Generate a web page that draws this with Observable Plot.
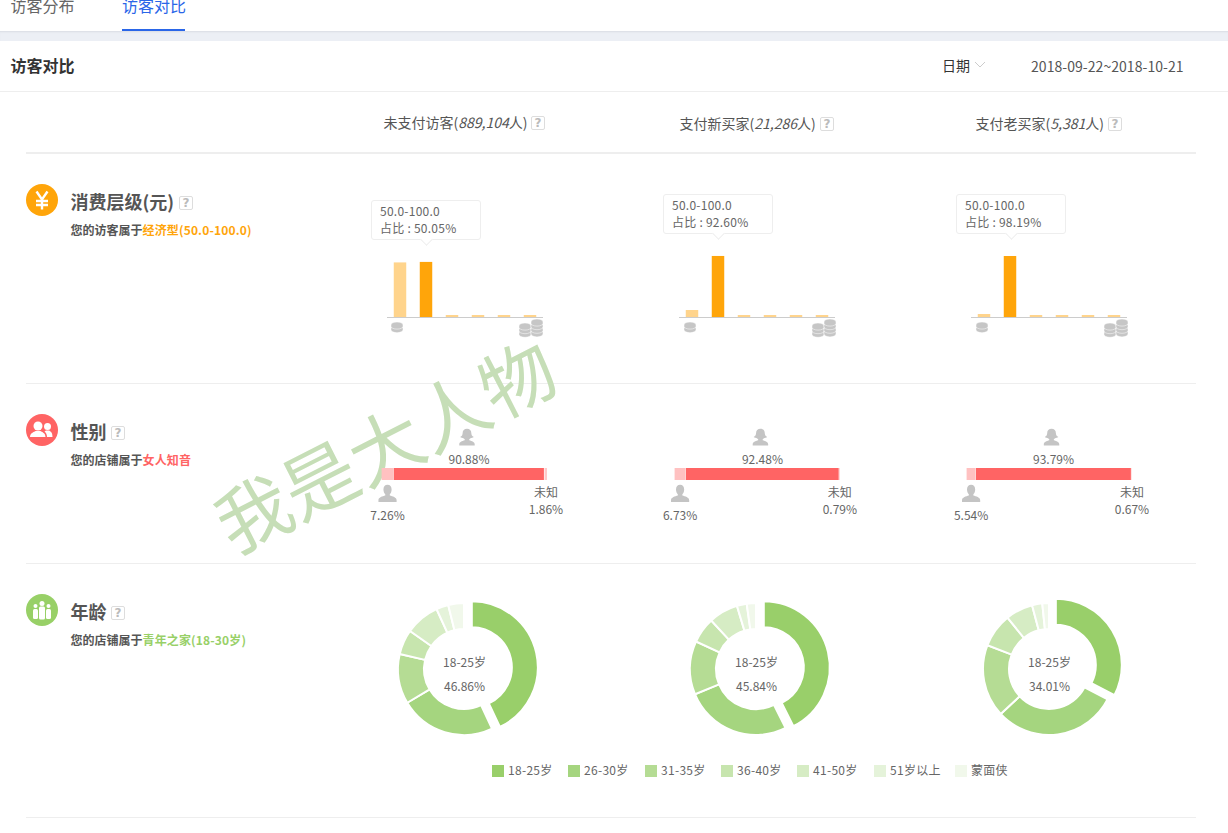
<!DOCTYPE html>
<html lang="zh">
<head>
<meta charset="utf-8">
<script src="https://cdn.jsdelivr.net/npm/d3@7"></script>
<script src="https://cdn.jsdelivr.net/npm/@observablehq/plot@0.6"></script>
<style>
html,body{margin:0;padding:0;background:#fff;}
#page{position:relative;width:1228px;height:833px;overflow:hidden;background:#fff;color:#666;
  font-family:"Noto Sans CJK SC","Noto Sans",sans-serif;font-size:12px;}
.t{position:absolute;white-space:nowrap;transform:translateY(-50%);line-height:1.2;}
.box{position:absolute;width:12px;height:12px;border:1px solid #ddd;border-radius:2px;color:#bbb;
  font:bold 12px/12px "DejaVu Sans",sans-serif;text-align:center;background:#fff;}
.hr{position:absolute;left:26px;width:1170px;height:1px;background:#eee;}
.p{position:absolute;}
.p svg{overflow:visible;max-width:none;}
.tip{position:absolute;width:108px;height:38px;border:1px solid #eee;border-radius:3px;background:#fff;
  box-sizing:content-box;font-size:12px;line-height:17px;color:#666;padding:0;letter-spacing:.25px;}
.tip div{padding-left:8px;}
.tip:after{content:"";position:absolute;left:50px;bottom:-5px;width:8px;height:8px;background:#fff;
  border-right:1px solid #eee;border-bottom:1px solid #eee;transform:rotate(45deg);}
.c{position:absolute;border-radius:50%;width:32px;height:32px;left:26px;}
</style>
</head>
<body>
<div id="page"></div>
<script>
// ---- data ----
const columns = ["未支付访客", "支付新买家", "支付老买家"];
const visitors = ["889,104", "21,286", "5,381"];
const spendBins = ["0-50", "50-100", "100-150", "150-200", "200-300", "300+"];
const spendA = [49.6, 50.05, 1.8, 1.8, 1.8, 1.8];
const spendB = [10.6, 92.6, 3, 3, 3, 3];
const spendC = [4.8, 98.19, 3.2, 3.2, 3.2, 3.2];
const spendPeak = ["50.05%", "92.60%", "98.19%"];
const genderKeys = ["男", "女", "未知"];
const genderA = [7.26, 90.88, 1.86];
const genderB = [6.73, 92.48, 0.79];
const genderC = [5.54, 93.79, 0.67];
const ageKeys = ["18-25岁", "26-30岁", "31-35岁", "36-40岁", "41-50岁", "51岁以上", "蒙面侠"];
const ageColors = ["#99cf6a", "#a5d57f", "#b5dc94", "#c7e5ae", "#d6ecc4", "#e5f3da", "#f1f8eb"];
// slice sizes as drawn in the picture; the printed share is in agePeak
const ageA = [43, 23.46, 12.2, 6.1, 8.4, 3.0, 3.84];
const ageB = [42.6, 26.14, 13.1, 6.3, 7.2, 2.4, 2.26];
const ageC = [32.6, 30.47, 17.8, 8.3, 6.7, 2.5, 1.63];
const agePeak = ["46.86%", "45.84%", "34.01%"];

const page = document.getElementById("page");
const FONT = '"Noto Sans CJK SC","Noto Sans",sans-serif';
function txt(x, y, html, style = "") {
  const d = document.createElement("div");
  d.className = "t"; d.style.cssText = `left:${x}px;top:${y}px;${style}`; d.innerHTML = html;
  page.appendChild(d); return d;
}
function html(s) { const w = document.createElement("div"); w.innerHTML = s; const n = w.firstElementChild; page.appendChild(n); return n; }
function q(x, y) { html(`<div class="box" style="left:${x}px;top:${y}px">?</div>`); }
function hr(y, h = 1) { html(`<div class="hr" style="top:${y}px;height:${h}px"></div>`); }
function place(node, left, top, w, h) {
  const d = document.createElement("div");
  d.className = "p"; d.style.cssText = `left:${left}px;top:${top}px;width:${w}px;height:${h}px`;
  d.appendChild(node); page.appendChild(d);
}
const plotStyle = {background: "transparent", overflow: "visible", fontFamily: FONT, fontSize: "12px", maxWidth: "none"};

// ---- page chrome ----
html(`<div style="position:absolute;left:0;top:31px;width:1228px;height:10px;background:#eceff5;box-shadow:inset 0 2px 2px -1px #d9dce3"></div>`);
txt(10.5, 6, "访客分布", "font-size:16px;color:#666");
txt(122, 6, "访客对比", "font-size:16px;color:#2a66e8");
html(`<div style="position:absolute;left:122px;top:29px;width:63px;height:2px;background:#2a66e8"></div>`);
txt(10.5, 66, "访客对比", "font-size:16px;font-weight:700;color:#333");
txt(942, 64.500, "日期", "font-size:14px;color:#333");
html(`<svg style="position:absolute;left:974px;top:61px" width="12" height="8"><path d="M1 1l5 5 5-5" fill="none" stroke="#ccc"/></svg>`);
txt(1031, 66, "2018-09-22~2018-10-21", "font-size:14px;color:#555;letter-spacing:.05px");
html(`<div style="position:absolute;left:0;top:91px;width:1228px;height:1px;background:#eee"></div>`);

const headX = [383.5, 679.5, 975.5], headY = [122, 123, 123], boxX = [531, 820, 1108];
columns.forEach((c, i) => {
  txt(headX[i], headY[i], `${c}(<i>${visitors[i]}</i>人)`, "font-size:14px;color:#555");
  q(boxX[i], headY[i] - 6);
});
hr(152, 2); hr(383); hr(563); hr(817);

// watermark (below the charts)
txt(384, 443, "我是大人物", "font-size:74px;color:#c6deb7;font-weight:400;transform:translate(-50%,-50%) rotate(-27deg);letter-spacing:0");

// ---- section headers ----
function section(cy, color, iconSvg, title, boxLeft, lead, accent) {
  html(`<div class="c" style="top:${cy - 16}px;background:${color}">${iconSvg}</div>`);
  txt(70.5, cy + 2, title, "font-size:18px;font-weight:700;color:#555");
  q(boxLeft, cy - 4);
  txt(70.5, cy + 30, `${lead}<span style="color:${color};letter-spacing:.15px">${accent}</span>`, "font-size:12px;font-weight:700;color:#555");
}
section(200, "#ffa50a", `<svg width="32" height="32"><path d="M10.500 7.500l5.500 8 5.500-8M16 15.500v10M10 17h12M10 21h12" fill="none" stroke="#fff" stroke-width="2.400"/></svg>`,
  "消费层级(元)", 179, "您的访客属于", "经济型(50.0-100.0)");
section(430, "#ff6464", `<svg width="32" height="32" fill="#fff"><circle cx="12" cy="12" r="4.500"/><path d="M4 23c0-4 4-5 5.500-6h5c1.500 1 5 2 5 6z"/><circle cx="21.500" cy="12.500" r="3.500"/><path d="M21 23c0-2.500-1-4.500-2.500-5.500l1.500-1h3c1.500.8 3.500 1.800 3.500 6.500z"/></svg>`,
  "性别", 111, "您的店铺属于", "女人知音");
section(610, "#98d067", `<svg width="32" height="32" fill="#fff"><circle cx="16" cy="9.500" r="2.500"/><rect x="13" y="12.500" width="6" height="13" rx="1.500"/><circle cx="9.500" cy="12" r="2"/><rect x="7" y="15" width="5" height="10" rx="1.500"/><circle cx="22.500" cy="12" r="2"/><rect x="20" y="15" width="5" height="10" rx="1.500"/></svg>`,
  "年龄", 111, "您的店铺属于", "青年之家(18-30岁)");

// ---- spend bars ----
const spendSeries = [spendA, spendB, spendC];
const spendLeft = [386.5, 678.5, 971];
const spendDomain = [63.6, 106.2, 112.7];
const tipPos = [[371, 200], [663, 194], [956, 194]];
function coin(x, bottom, n) {
  const step = 3.600, h = 7.100 + (n - 1) * step;
  let s = "";
  for (let k = 0; k < n; k++) {
    const y = h - 3.300 - k * step;
    s += `<path d="M0 ${y - 1}a6 2.800 0 0 1 12 0v1.500a6 2.800 0 0 1-12 0z" fill="#c6c6c6" stroke="#fff" stroke-width=".5"/>`;
  }
  html(`<svg style="position:absolute;left:${x - 6}px;top:${bottom - h}px;overflow:visible" width="12" height="${h}" viewBox="0 0 12 ${h}">${s}</svg>`);
}
spendSeries.forEach((vals, i) => {
  const rows = spendBins.map((b, j) => ({bin: b, v: vals[j], peak: j === 1 ? "peak" : "rest"}));
  const chart = Plot.plot({
    width: 156, height: 80, marginLeft: 0, marginRight: 0, marginTop: 5, marginBottom: 5,
    style: plotStyle,
    x: {type: "band", domain: spendBins, padding: 0.52, paddingOuter: 0.26, round: false, axis: null},
    y: {domain: [0, spendDomain[i]], axis: null},
    color: {type: "ordinal", domain: ["peak", "rest"], range: ["#ffa50a", "#ffd48c"]},
    marks: [
      Plot.barY(rows, {x: "bin", y: "v", fill: "peak"}),
      Plot.ruleY([0], {stroke: "#ccc", strokeWidth: 1})
    ]
  });
  place(chart, spendLeft[i], 242, 156, 80);
  const [tx, ty] = tipPos[i];
  html(`<div class="tip" style="left:${tx}px;top:${ty}px"><div style="padding-top:1px">50.0-100.0</div><div>占比 : ${spendPeak[i]}</div></div>`);
  const off = [0, 292.5, 585][i];
  coin(397 + off, 333, 2);
  coin(525 + off, 337, 3);
  coin(537 + off, 337, 4);
});

// ---- gender stacked bars ----
const femaleIcon = "data:image/svg+xml," + encodeURIComponent(`<svg xmlns="http://www.w3.org/2000/svg" viewBox="0 0 22 22" fill="#c4c4c4"><path d="M11 1.500c3 0 4.800 2 4.800 4.800 0 1.700.8 3.200 2.700 4.200-1.200.9-2.500 1.200-3.600 1.200l-1.400 1.200v1.100c3 .9 6 1.900 6 4.500v1.300H2.500v-1.300c0-2.600 3-3.600 6-4.500v-1.100l-1.400-1.200c-1.100 0-2.400-.3-3.600-1.200 1.900-1 2.700-2.500 2.700-4.200C6.200 3.500 8 1.500 11 1.500z"/></svg>`);
const maleIcon = "data:image/svg+xml," + encodeURIComponent(`<svg xmlns="http://www.w3.org/2000/svg" viewBox="0 0 22 22" fill="#c4c4c4"><path d="M11 1.500c2.800 0 4.500 2 4.500 5 0 2.500-1 4.300-2 5.300v1.500c3 1 7.500 2 7.500 5v2H1v-2c0-3 4.500-4 7.500-5v-1.500c-1-1-2-2.800-2-5.300 0-3 1.700-5 4.500-5z"/></svg>`);
const genderSeries = [genderA, genderB, genderC];
const genderLeft = [381, 674, 966];
genderSeries.forEach((vals, i) => {
  const cum = d3.cumsum(vals);
  const rows = genderKeys.map((k, j) => ({key: k, v: vals[j], mid: cum[j] - vals[j] / 2, pct: vals[j].toFixed(2) + "%"}));
  const [m, f, u] = rows;
  const label = (r, text, dy) => Plot.text([r], {x: "mid", text, dy, frameAnchor: "middle", fill: "#666", fontSize: 12});
  const chart = Plot.plot({
    width: 166, height: 92, marginLeft: 0, marginRight: 0, marginTop: 40, marginBottom: 40,
    style: plotStyle,
    x: {domain: [0, 100], axis: null},
    color: {type: "ordinal", domain: genderKeys, range: ["#ffc1c1", "#ff6464", "#ffcaca"]},
    marks: [
      Plot.barX(rows, Plot.stackX({x: "v", fill: "key", insetLeft: 0.6})),
      Plot.image([f], {x: "mid", src: () => femaleIcon, width: 20, height: 20, dx: -2, dy: -37, frameAnchor: "middle"}),
      Plot.image([m], {x: "mid", src: () => maleIcon, width: 20, height: 20, dy: 19, frameAnchor: "middle"}),
      label(f, "pct", -14.5),
      label(m, "pct", 41.5),
      label(u, () => "未知", 18.5),
      label(u, "pct", 35.5)
    ]
  });
  place(chart, genderLeft[i], 427.7, 166, 92);
});

// ---- age donuts ----
const ageSeries = [ageA, ageB, ageC];
const donutCx = [463.7, 755.8, 1049];
const donutCy = 669, R0 = 40, R1 = 66, EXPLODE = 8;
function donutRender(index, scales, values, dim) {
  const g = d3.create("svg:g").attr("transform", `translate(${dim.width / 2},${dim.height / 2})`);
  const arc = d3.arc().innerRadius(R0).outerRadius(R1);
  for (const i of index) {
    const a0 = values.x1[i], a1 = values.x2[i], m = (a0 + a1) / 2;
    const path = g.append("path")
      .attr("d", arc({startAngle: a0, endAngle: a1}))
      .attr("fill", values.fill[i]).attr("stroke", "#fff").attr("stroke-width", 2);
    if (i === 0) path.attr("transform", `translate(${EXPLODE * Math.sin(m)},${-EXPLODE * Math.cos(m)})`);
  }
  return g.node();
}
ageSeries.forEach((vals, i) => {
  const rows = ageKeys.map((k, j) => ({age: k, v: vals[j]}));
  const chart = Plot.plot({
    width: 170, height: 170, margin: 0,
    style: plotStyle,
    x: {domain: [0, 100], range: [0, 2 * Math.PI], axis: null},
    color: {type: "ordinal", domain: ageKeys, range: ageColors},
    marks: [
      Plot.barX(rows, Plot.stackX({x: "v", fill: "age", render: donutRender})),
      Plot.text([ageKeys[0]], {text: d => d, frameAnchor: "middle", dy: -6, fill: "#666", fontSize: 12, style: "letter-spacing:.4px"}),
      Plot.text([agePeak[i]], {text: d => d, frameAnchor: "middle", dy: 18, fill: "#666", fontSize: 12})
    ]
  });
  place(chart, donutCx[i] - 85, donutCy - 85, 170, 170);
});

// ---- legend ----
const legendX = [492, 568, 645, 721, 797, 874, 955];
ageKeys.forEach((k, i) => {
  html(`<div style="position:absolute;left:${legendX[i]}px;top:765px;width:12px;height:12px;background:${ageColors[i]}"></div>`);
  txt(legendX[i] + 16, 770, k, "font-size:12px;color:#666;letter-spacing:.3px");
});
</script>
</body>
</html>
